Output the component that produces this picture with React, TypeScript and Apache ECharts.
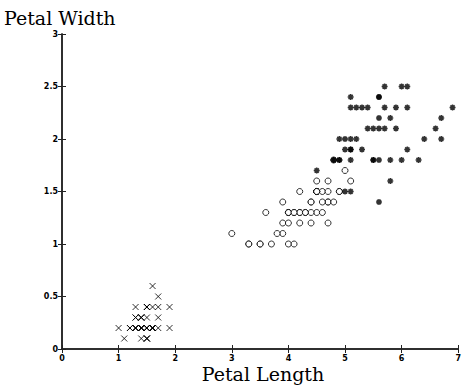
import React, { useEffect, useRef } from "react";
import * as echarts from "echarts";

// Iris petal measurements: [petal length, petal width]
const setosa: [number, number][] = [
  [1.4, 0.2], [1.4, 0.2], [1.3, 0.2], [1.5, 0.2], [1.4, 0.2], [1.7, 0.4], [1.4, 0.3], [1.5, 0.2], [1.4, 0.2], [1.5, 0.1],
  [1.5, 0.2], [1.6, 0.2], [1.4, 0.1], [1.1, 0.1], [1.2, 0.2], [1.5, 0.4], [1.3, 0.4], [1.4, 0.3], [1.7, 0.3], [1.5, 0.3],
  [1.7, 0.2], [1.5, 0.4], [1.0, 0.2], [1.7, 0.5], [1.9, 0.2], [1.6, 0.2], [1.6, 0.4], [1.5, 0.2], [1.4, 0.2], [1.6, 0.2],
  [1.6, 0.2], [1.5, 0.4], [1.5, 0.1], [1.4, 0.2], [1.5, 0.2], [1.2, 0.2], [1.3, 0.2], [1.5, 0.1], [1.3, 0.2], [1.5, 0.2],
  [1.3, 0.3], [1.3, 0.3], [1.3, 0.2], [1.6, 0.6], [1.9, 0.4], [1.4, 0.3], [1.6, 0.2], [1.4, 0.2], [1.5, 0.2], [1.4, 0.2],
];
const versicolor: [number, number][] = [
  [4.7, 1.4], [4.5, 1.5], [4.9, 1.5], [4.0, 1.3], [4.6, 1.5], [4.5, 1.3], [4.7, 1.6], [3.3, 1.0], [4.6, 1.3], [3.9, 1.4],
  [3.5, 1.0], [4.2, 1.5], [4.0, 1.0], [4.7, 1.4], [3.6, 1.3], [4.4, 1.4], [4.5, 1.5], [4.1, 1.0], [4.5, 1.5], [3.9, 1.1],
  [4.8, 1.8], [4.0, 1.3], [4.9, 1.5], [4.7, 1.2], [4.3, 1.3], [4.4, 1.4], [4.8, 1.4], [5.0, 1.7], [4.5, 1.5], [3.5, 1.0],
  [3.8, 1.1], [3.7, 1.0], [3.9, 1.2], [5.1, 1.6], [4.5, 1.5], [4.5, 1.6], [4.7, 1.5], [4.4, 1.3], [4.1, 1.3], [4.0, 1.3],
  [4.4, 1.2], [4.6, 1.4], [4.0, 1.2], [3.3, 1.0], [4.2, 1.3], [4.2, 1.2], [4.2, 1.3], [4.3, 1.3], [3.0, 1.1], [4.1, 1.3],
];
const virginica: [number, number][] = [
  [6.0, 2.5], [5.1, 1.9], [5.9, 2.1], [5.6, 1.8], [5.8, 2.2], [6.6, 2.1], [4.5, 1.7], [6.3, 1.8], [5.8, 1.8], [6.1, 2.5],
  [5.1, 2.0], [5.3, 1.9], [5.5, 2.1], [5.0, 2.0], [5.1, 2.4], [5.3, 2.3], [5.5, 1.8], [6.7, 2.2], [6.9, 2.3], [5.0, 1.5],
  [5.7, 2.3], [4.9, 2.0], [6.7, 2.0], [4.9, 1.8], [5.7, 2.1], [6.0, 1.8], [4.8, 1.8], [4.9, 1.8], [5.6, 2.1], [5.8, 1.6],
  [6.1, 1.9], [6.4, 2.0], [5.6, 2.2], [5.1, 1.5], [5.6, 1.4], [6.1, 2.3], [5.6, 2.4], [5.5, 1.8], [4.8, 1.8], [5.4, 2.1],
  [5.6, 2.4], [5.1, 2.3], [5.1, 1.9], [5.9, 2.3], [5.7, 2.5], [5.2, 2.3], [5.0, 1.9], [5.2, 2.0], [5.4, 2.3], [5.1, 1.8],
];

const xMin = 0, xMax = 7, xStep = 1;
const yMin = 0, yMax = 3, yStep = 0.5;

const crossSymbol = "path://M0,0L10,10M10,0L0,10";
const starSymbol = "path://M5,0L5,10M0,5L10,5M1.5,1.5L8.5,8.5M8.5,1.5L1.5,8.5";

export default function App() {
  const ref = useRef<HTMLDivElement>(null);
  useEffect(() => {
    if (!ref.current) return;
    const chart = echarts.init(ref.current, null, { renderer: "svg" });
    const axisLine = { show: true, lineStyle: { color: "#222", width: 1.5 } };
    const tick = { show: true, inside: true, length: 4, lineStyle: { color: "#222", width: 1 } };
    const lbl = { fontSize: 8, fontWeight: "bold" as const, color: "#000", fontFamily: "DejaVu Sans" };
    const titleStyle = { fontFamily: "DejaVu Serif", fontSize: 19, fontWeight: "normal" as const, color: "#000" };
    chart.setOption({
      animation: false,
      backgroundColor: "#fff",
      grid: { left: 62, right: 0, top: 34, bottom: 41 },
      title: [
        { text: "Petal Width", left: 4, top: 8, padding: 0, textStyle: titleStyle },
        { text: "Petal Length", left: 263, top: 364, padding: 0, textAlign: "center", textStyle: titleStyle },
      ],
      xAxis: [
        { type: "value", min: xMin, max: xMax, interval: xStep, position: "bottom", axisLine, axisTick: tick, splitLine: { show: false }, axisLabel: { ...lbl, margin: 5 } },
        { type: "value", min: xMin, max: xMax, interval: xStep, position: "top", axisLine, axisTick: tick, splitLine: { show: false }, axisLabel: { show: false } },
      ],
      yAxis: [
        { type: "value", min: yMin, max: yMax, interval: yStep, position: "left", axisLine, axisTick: tick, splitLine: { show: false }, axisLabel: { ...lbl, margin: 4 } },
        { type: "value", min: yMin, max: yMax, interval: yStep, position: "right", axisLine, axisTick: tick, splitLine: { show: false }, axisLabel: { show: false } },
      ],
      series: [
        { type: "scatter", data: setosa, symbol: crossSymbol, symbolSize: 6, itemStyle: { color: "none", borderColor: "#000", borderWidth: 1 } },
        { type: "scatter", data: versicolor, symbol: "circle", symbolSize: 6, itemStyle: { color: "#fff", borderColor: "#000", borderWidth: 1 } },
        { type: "scatter", data: virginica, symbol: starSymbol, symbolSize: 6, itemStyle: { color: "none", borderColor: "#000", borderWidth: 1.5 } },
      ],
    });
    return () => chart.dispose();
  }, []);
  return <div ref={ref} style={{ width: 464, height: 390, position: "absolute", left: 0, top: 0 }} />;
}
